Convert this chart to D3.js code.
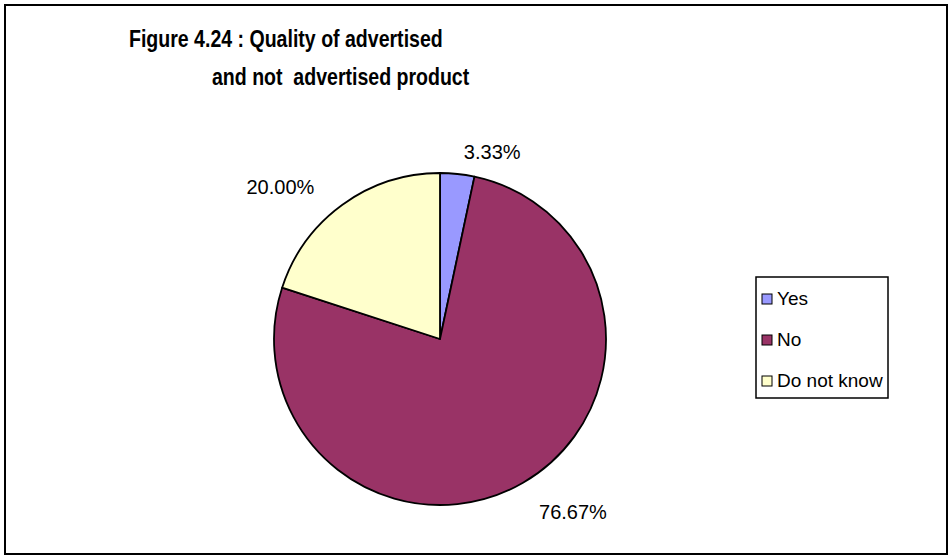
<!DOCTYPE html>
<html>
<head>
<meta charset="utf-8">
<script src="https://cdn.jsdelivr.net/npm/d3@7"></script>
<style>
  html, body { margin: 0; padding: 0; background: #fff; }
  svg { display: block; font-family: "Liberation Sans", Arial, sans-serif; }
</style>
</head>
<body>
<svg id="chart" width="952" height="559"></svg>
<script>
// Survey answers: is there a quality difference between advertised and not advertised products?
const categories = ["Yes", "No", "Do not know"];
const shares = [3.33, 76.67, 20.00];
const sliceColors = ["#9999FF", "#993366", "#FFFFCC"];
const titleLines = ["Figure 4.24 : Quality of advertised", "and not  advertised product"];

const svg = d3.select("#chart");

// outer frame
svg.append("rect")
  .attr("x", 5).attr("y", 5)
  .attr("width", 942).attr("height", 549)
  .attr("fill", "#fff").attr("stroke", "#000").attr("stroke-width", 2);

// title, two lines, second indented; set in a slightly condensed bold face
const squeeze = 0.85;
const titleX = [129, 212];
svg.append("g")
  .attr("transform", `scale(${squeeze},1)`)
  .selectAll("text.title")
  .data(titleLines)
  .join("text")
  .attr("class", "title")
  .attr("x", (d, i) => titleX[i] / squeeze)
  .attr("y", (d, i) => 47 + i * 38)
  .attr("font-size", 23)
  .attr("font-weight", "bold")
  .attr("fill", "#000")
  .style("white-space", "pre")
  .text(d => d);

// pie
const cx = 440, cy = 339, r = 166;
const pie = d3.pie().sort(null).value(d => d)(shares);
const arc = d3.arc().innerRadius(0).outerRadius(r);
const color = d3.scaleOrdinal().domain(categories).range(sliceColors);

const g = svg.append("g").attr("transform", `translate(${cx},${cy})`);
g.selectAll("path")
  .data(pie)
  .join("path")
  .attr("d", arc)
  .attr("fill", (d, i) => color(categories[i]))
  .attr("stroke", "#000")
  .attr("stroke-width", 1.8)
  .attr("stroke-linejoin", "round");

// percentage labels outside the slices
const labelArc = d3.arc().innerRadius(r + 24).outerRadius(r + 24);
g.selectAll("text.pct")
  .data(pie)
  .join("text")
  .attr("class", "pct")
  .attr("x", d => {
    const [x] = labelArc.centroid(d);
    return x >= 0 ? x + 4 : x - 14;
  })
  .attr("y", d => {
    const [, y] = labelArc.centroid(d);
    return y < 0 ? y + 9 : y + 15;
  })
  .attr("text-anchor", d => labelArc.centroid(d)[0] >= 0 ? "start" : "end")
  .attr("font-size", 20)
  .attr("fill", "#000")
  .text(d => d.data.toFixed(2) + "%");

// legend
const lg = svg.append("g").attr("transform", "translate(756,277)");
lg.append("rect")
  .attr("width", 132).attr("height", 121)
  .attr("fill", "#fff").attr("stroke", "#000").attr("stroke-width", 1.5);
const items = lg.selectAll("g.item")
  .data(categories)
  .join("g")
  .attr("class", "item")
  .attr("transform", (d, i) => `translate(6,${28 + i * 41})`);
items.append("rect")
  .attr("x", 0).attr("y", -11)
  .attr("width", 10).attr("height", 10)
  .attr("fill", d => color(d))
  .attr("stroke", "#000").attr("stroke-width", 1);
items.append("text")
  .attr("x", 15).attr("y", 0)
  .attr("font-size", 19)
  .attr("fill", "#000")
  .text(d => d);
</script>
</body>
</html>
